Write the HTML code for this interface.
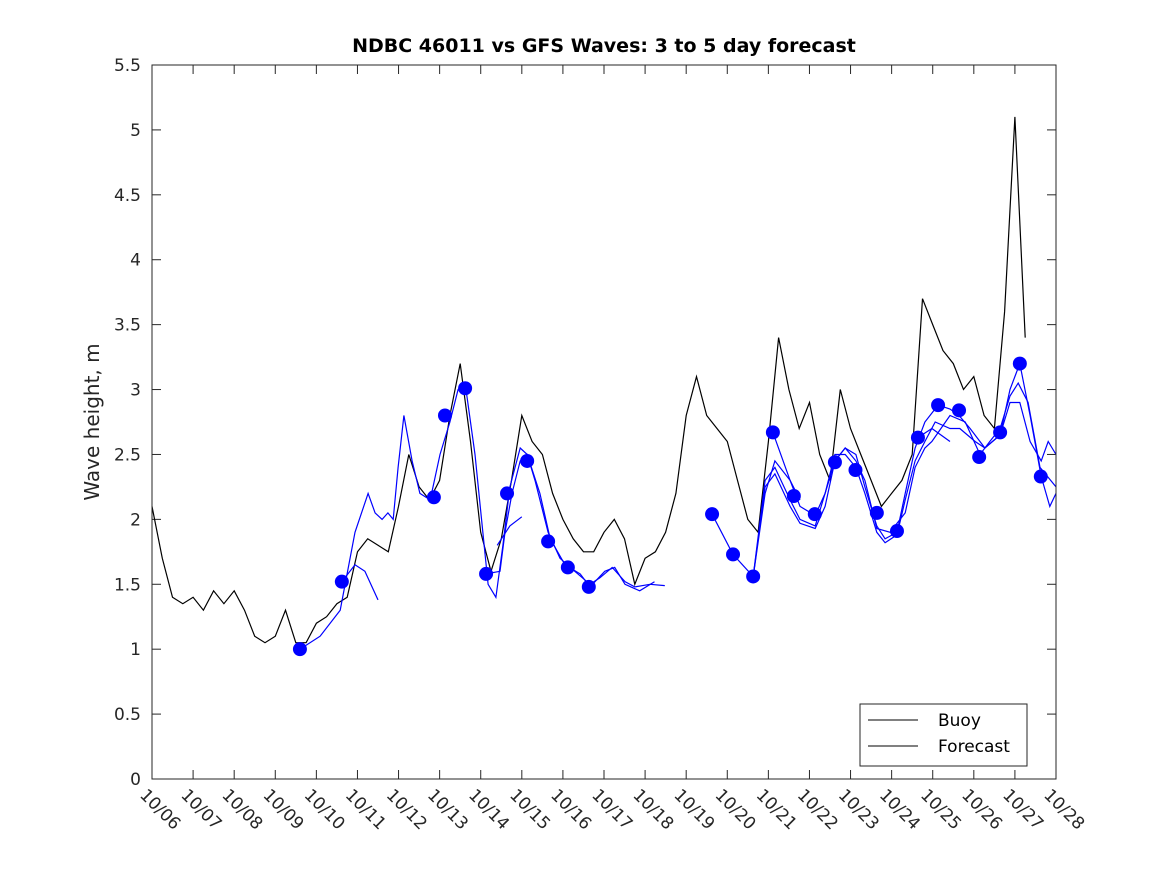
<!DOCTYPE html>
<html><head><meta charset="utf-8">
<style>
body{margin:0;background:#fff;}
svg{display:block;font-family:"DejaVu Sans","Liberation Sans",sans-serif;}
</style></head>
<body>
<svg id="chart" width="1167" height="875" viewBox="0 0 1167 875" xmlns="http://www.w3.org/2000/svg">
<rect x="0" y="0" width="1167" height="875" fill="#fff"/>
<rect x="152" y="65" width="904" height="714" fill="#fff"/>
<text x="604" y="52" text-anchor="middle" font-size="19" font-weight="bold" fill="#000">NDBC 46011 vs GFS Waves: 3 to 5 day forecast</text>
<text transform="translate(99,422) rotate(-90)" text-anchor="middle" font-size="20" fill="#262626">Wave height, m</text>
<g id="ticks"></g>
<g id="series"></g>
<rect x="152" y="65" width="904" height="714" fill="none" stroke="#262626" stroke-width="1"/>
<g>
<rect x="860" y="704" width="167" height="62" fill="#fff" stroke="#262626" stroke-width="1"/>
<line x1="868" y1="720" x2="918" y2="720" stroke="#000" stroke-width="1"/>
<text x="938" y="726" font-size="17" fill="#000">Buoy</text>
<line x1="868" y1="746" x2="918" y2="746" stroke="#000" stroke-width="1"/>
<text x="938" y="752" font-size="17" fill="#000">Forecast</text>
</g>
</svg>
<script>
var xTickLabels = ["10/06","10/07","10/08","10/09","10/10","10/11","10/12","10/13","10/14","10/15","10/16","10/17","10/18","10/19","10/20","10/21","10/22","10/23","10/24","10/25","10/26","10/27","10/28"];
var yTicks = [0,0.5,1,1.5,2,2.5,3,3.5,4,4.5,5,5.5];
var yTickLabels = ["0","0.5","1","1.5","2","2.5","3","3.5","4","4.5","5","5.5"];
var buoyStart = 0;
var buoyStep = 0.25;
var buoyValues = [2.1,1.7,1.4,1.35, 1.4,1.3,1.45,1.35, 1.45,1.3,1.1,1.05,
 1.1,1.3,1.05,1.05, 1.2,1.25,1.35,1.4, 1.75,1.85,1.8,1.75, 2.1,2.5,2.25,2.15,
 2.3,2.8,3.2,2.6, 1.9,1.6,1.85,2.3, 2.8,2.6,2.5,2.2, 2.0,1.85,1.75,1.75,
 1.9,2.0,1.85,1.5, 1.7,1.75,1.9,2.2, 2.8,3.1,2.8,2.7, 2.6,2.3,2.0,1.9,
 2.6,3.4,3.0,2.7, 2.9,2.5,2.3,3.0, 2.7,2.5,2.3,2.1, 2.2,2.3,2.5,3.7,
 3.5,3.3,3.2,3.0, 3.1,2.8,2.7,3.6, 5.1,3.4];
var dotDays = [3.60,4.62,6.86,7.13,7.62,8.13,8.64,9.13,9.64,10.12,10.63,13.63,14.14,14.63,15.11,15.62,16.13,16.62,17.12,17.64,18.13,18.64,19.13,19.64,20.13,20.64,21.12,21.63];
var dotValues = [1.0,1.52,2.17,2.8,3.01,1.58,2.2,2.45,1.83,1.63,1.48,2.04,1.73,1.56,2.67,2.18,2.04,2.44,2.38,2.05,1.91,2.63,2.88,2.84,2.48,2.67,3.2,2.33];
var fcA_days = [3.60,4.09,4.58,4.94,5.26,5.43,5.60,5.74,5.87,5.99,6.13,6.33,6.52,6.77,7.01,7.25,7.45,7.62,7.86,8.18,8.37,8.54,8.71,8.96,9.13,9.32,9.64,9.93,10.29,10.66,10.90,11.20,11.51,11.75,12.12,12.48];
var fcA_vals = [1.0,1.1,1.3,1.9,2.2,2.05,2.0,2.05,2.0,2.4,2.8,2.45,2.2,2.15,2.5,2.75,3.0,3.05,2.5,1.5,1.4,1.8,2.25,2.55,2.5,2.3,1.9,1.7,1.6,1.5,1.55,1.63,1.52,1.48,1.5,1.49];
var fcB_days = [4.62,4.94,5.18,5.50];
var fcB_vals = [1.52,1.65,1.6,1.38];
var fcC_days = [8.13,8.47,8.59,8.76,8.96,9.13,9.44,9.69,10.05,10.42,10.66,11.02,11.26,11.51,11.87,12.23];
var fcC_vals = [1.58,1.6,1.9,2.2,2.45,2.5,2.2,1.85,1.65,1.58,1.48,1.6,1.63,1.5,1.45,1.52];
var fcD_days = [8.40,8.71,9.00];
var fcD_vals = [1.8,1.95,2.02];
var fcE_days = [13.63,14.14,14.63,14.92,15.16,15.53,15.77,16.14,16.38,16.62,16.87,17.13,17.35,17.64,17.84,18.13,18.33,18.57,18.81,19.13,19.42,19.64,19.91,20.27,20.64,20.88,21.12,21.37,21.64,21.85,22.0];
var fcE_vals = [2.04,1.73,1.56,2.2,2.45,2.3,2.1,2.03,2.2,2.45,2.55,2.5,2.25,1.95,1.85,1.9,2.2,2.55,2.75,2.88,2.85,2.8,2.7,2.55,2.65,3.0,3.2,2.8,2.33,2.1,2.2];
var fcF_days = [14.63,14.92,15.16,15.53,15.77,16.14,16.38,16.62,16.87,17.13,17.35,17.64,17.84,18.13,18.33,18.57,18.81,19.06,19.42,19.66,20.03,20.27,20.64,20.88,21.12,21.37,21.64,21.81,22.0];
var fcF_vals = [1.56,2.3,2.4,2.15,2.0,1.95,2.2,2.5,2.5,2.4,2.2,1.9,1.82,1.88,2.15,2.45,2.6,2.75,2.7,2.7,2.6,2.55,2.65,2.9,2.9,2.6,2.45,2.6,2.5];
var fcG_days = [14.63,14.92,15.16,15.53,15.77,16.14,16.38,16.62,16.87,17.13,17.35,17.64,17.96,18.33,18.57,18.81,18.98,19.42,19.79,20.15,20.39,20.64,20.88,21.08,21.32,21.61,22.0];
var fcG_vals = [1.56,2.25,2.35,2.1,1.97,1.93,2.1,2.45,2.55,2.45,2.3,1.93,1.9,2.05,2.4,2.55,2.6,2.8,2.75,2.5,2.6,2.7,2.95,3.05,2.9,2.4,2.25];
var fcH_days = [15.11,15.53,15.77];
var fcH_vals = [2.67,2.3,2.15];
var fcI_days = [18.64,18.98,19.42];
var fcI_vals = [2.63,2.7,2.6];

var NS = "http://www.w3.org/2000/svg";
function xS(d){ return 152 + d * (904/22); }
function yS(v){ return 779 - v * (714/5.5); }
var tg = document.getElementById('ticks');
var sg = document.getElementById('series');
function mk(tag, parent){ var e = document.createElementNS(NS, tag); parent.appendChild(e); return e; }

for (var i = 0; i < xTickLabels.length; i++) {
  var x = xS(i);
  var t1 = mk('line', tg);
  
  
  t1.setAttribute('x1', x); t1.setAttribute('x2', x); t1.setAttribute('y1', 779); t1.setAttribute('y2', 770);
  t1.setAttribute('stroke', '#262626');
  var t2 = mk('line', tg);
  
  
  t2.setAttribute('x1', x); t2.setAttribute('x2', x); t2.setAttribute('y1', 65); t2.setAttribute('y2', 74);
  t2.setAttribute('stroke', '#262626');
  var lb = mk('text', tg);
  
  
  lb.setAttribute('transform', 'translate(' + (x - 13) + ',796) rotate(45)');
  lb.setAttribute('font-size', '17'); lb.setAttribute('fill', '#262626');
  lb.textContent = xTickLabels[i];
}
for (var j = 0; j < yTicks.length; j++) {
  var y = yS(yTicks[j]);
  var a = mk('line', tg);
  
  
  a.setAttribute('x1', 152); a.setAttribute('x2', 161); a.setAttribute('y1', y); a.setAttribute('y2', y);
  a.setAttribute('stroke', '#262626');
  var b = mk('line', tg);
  
  
  b.setAttribute('x1', 1047); b.setAttribute('x2', 1056); b.setAttribute('y1', y); b.setAttribute('y2', y);
  b.setAttribute('stroke', '#262626');
  var yl = mk('text', tg);
  
  
  yl.setAttribute('x', 141); yl.setAttribute('y', y + 6);
  yl.setAttribute('text-anchor', 'end'); yl.setAttribute('font-size', '17'); yl.setAttribute('fill', '#262626');
  yl.textContent = yTickLabels[j];
}

function drawLine(days, vals, color, name) {
  var pts = [];
  for (var k = 0; k < vals.length; k++) pts.push(xS(days[k]).toFixed(1) + ',' + yS(vals[k]).toFixed(1));
  var p = mk('polyline', sg);
  
  
  p.setAttribute('points', pts.join(' '));
  p.setAttribute('fill', 'none'); p.setAttribute('stroke', color); p.setAttribute('stroke-width', '1.2');
}
var buoyDays = [];
for (var m = 0; m < buoyValues.length; m++) buoyDays.push(buoyStart + m * buoyStep);
drawLine(buoyDays, buoyValues, '#000', 'buoy-line');
drawLine(fcA_days, fcA_vals, '#0000ff', 'forecast-line-a');
drawLine(fcB_days, fcB_vals, '#0000ff', 'forecast-line-b');
drawLine(fcC_days, fcC_vals, '#0000ff', 'forecast-line-c');
drawLine(fcD_days, fcD_vals, '#0000ff', 'forecast-line-d');
drawLine(fcE_days, fcE_vals, '#0000ff', 'forecast-line-e');
drawLine(fcF_days, fcF_vals, '#0000ff', 'forecast-line-f');
drawLine(fcG_days, fcG_vals, '#0000ff', 'forecast-line-g');
drawLine(fcH_days, fcH_vals, '#0000ff', 'forecast-line-h');
drawLine(fcI_days, fcI_vals, '#0000ff', 'forecast-line-i');
for (var n = 0; n < dotValues.length; n++) {
  var c = mk('circle', sg);
  
  
  c.setAttribute('cx', xS(dotDays[n])); c.setAttribute('cy', yS(dotValues[n]));
  c.setAttribute('r', 7); c.setAttribute('fill', '#0000ff');
}
</script>
</body></html>
